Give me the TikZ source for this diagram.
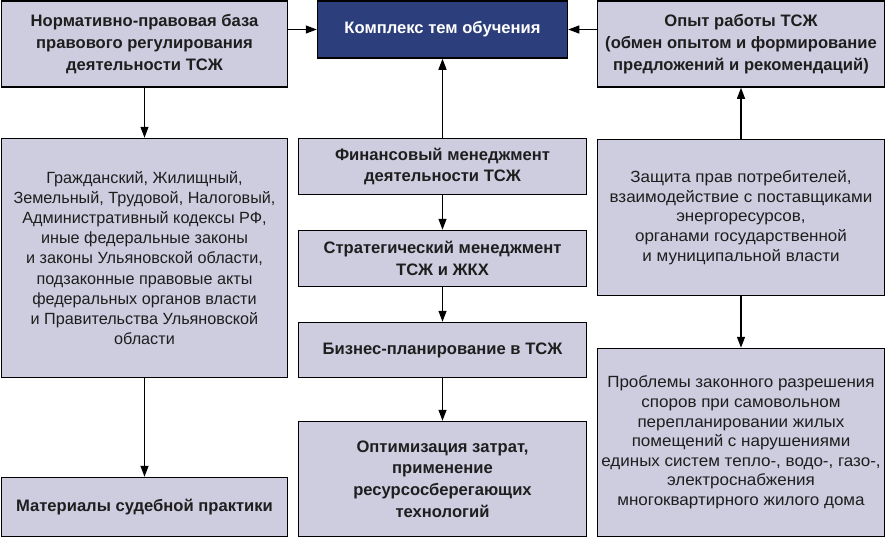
\documentclass[tikz,border=0pt]{standalone}
\usepackage{fontspec}
\setmainfont{Liberation Sans}
\newfontfamily\widefont[FakeStretch=1.05]{Liberation Sans}
\usetikzlibrary{arrows.meta}
\definecolor{boxfill}{RGB}{206,205,224}
\definecolor{darkfill}{RGB}{45,62,125}
\definecolor{txt}{RGB}{30,30,30}
\tikzset{
  base/.style={draw=black, line width=1.5pt, rectangle, inner sep=2pt, align=center, text=txt},
  lbox/.style={base, fill=boxfill},
  hdr/.style={font=\fontsize{16.6}{21.8}\selectfont\bfseries},
  reg/.style={font=\fontsize{16.2}{20.2}\selectfont},
  regb/.style={font=\widefont\fontsize{16.2}{19.6}\selectfont},
  dbox/.style={base, fill=darkfill, text=white, font=\fontsize{16.6}{21.8}\selectfont\bfseries},
  arr/.style={line width=1.3pt, -{Triangle[length=11pt,width=8pt]}}
}
\begin{document}
\begin{tikzpicture}[x=1pt,y=-1pt]
\useasboundingbox (0,0) rectangle (886,538);
\node[lbox,hdr,minimum width=286pt,minimum height=86pt] (lt) at (144.5,44)
  {Нормативно-правовая база\\правового регулирования\\деятельности ТСЖ};
\node[dbox,minimum width=250pt,minimum height=57pt] (ct) at (442.5,29.5)
  {Комплекс тем обучения};
\node[lbox,hdr,minimum width=287pt,minimum height=86pt] (rt) at (741,44)
  {Опыт работы ТСЖ\\(обмен опытом и формирование\\предложений и рекомендаций)};
\node[lbox,reg,minimum width=286pt,minimum height=239pt] (lm) at (144.5,258)
  {Гражданский, Жилищный,\\Земельный, Трудовой, Налоговый,\\Административный кодексы РФ,\\иные федеральные законы\\и законы Ульяновской области,\\подзаконные правовые акты\\федеральных органов власти\\и Правительства Ульяновской\\области};
\node[lbox,hdr,minimum width=286pt,minimum height=59pt] (lb) at (144.5,507)
  {Материалы судебной практики};
\node[lbox,hdr,minimum width=288pt,minimum height=56pt] (fin) at (442.5,166.5)
  {Финансовый менеджмент\\деятельности ТСЖ};
\node[lbox,hdr,minimum width=288pt,minimum height=56pt] (str) at (442.5,258.5)
  {Стратегический менеджмент\\ТСЖ и ЖКХ};
\node[lbox,hdr,minimum width=288pt,minimum height=55pt] (biz) at (442.5,350)
  {Бизнес-планирование в ТСЖ};
\node[lbox,hdr,minimum width=288pt,minimum height=115pt] (opt) at (442.5,479)
  {Оптимизация затрат,\\применение\\ресурсосберегающих\\технологий};
\node[lbox,regb,minimum width=287pt,minimum height=156pt] (rm) at (741,217.5)
  {Защита прав потребителей,\\взаимодействие с поставщиками\\энергоресурсов,\\органами государственной\\и муниципальной власти};
\node[lbox,regb,minimum width=287pt,minimum height=188pt] (rb) at (741,442.5)
  {Проблемы законного разрешения\\споров при самовольном\\перепланировании жилых\\помещений с нарушениями\\единых систем тепло-, водо-, газо-,\\электроснабжения\\многоквартирного жилого дома};
\draw[arr] (lt.east |- ct.west) -- (ct.west);
\draw[arr] (rt.west |- ct.east) -- (ct.east);
\draw[arr] (lt) -- (lm);
\draw[arr] (lm) -- (lb);
\draw[arr] (fin) -- (ct);
\draw[arr] (fin) -- (str);
\draw[arr] (str) -- (biz);
\draw[arr] (biz) -- (opt);
\draw[arr] (rm) -- (rt);
\draw[arr] (rm) -- (rb);
\end{tikzpicture}
\end{document}
